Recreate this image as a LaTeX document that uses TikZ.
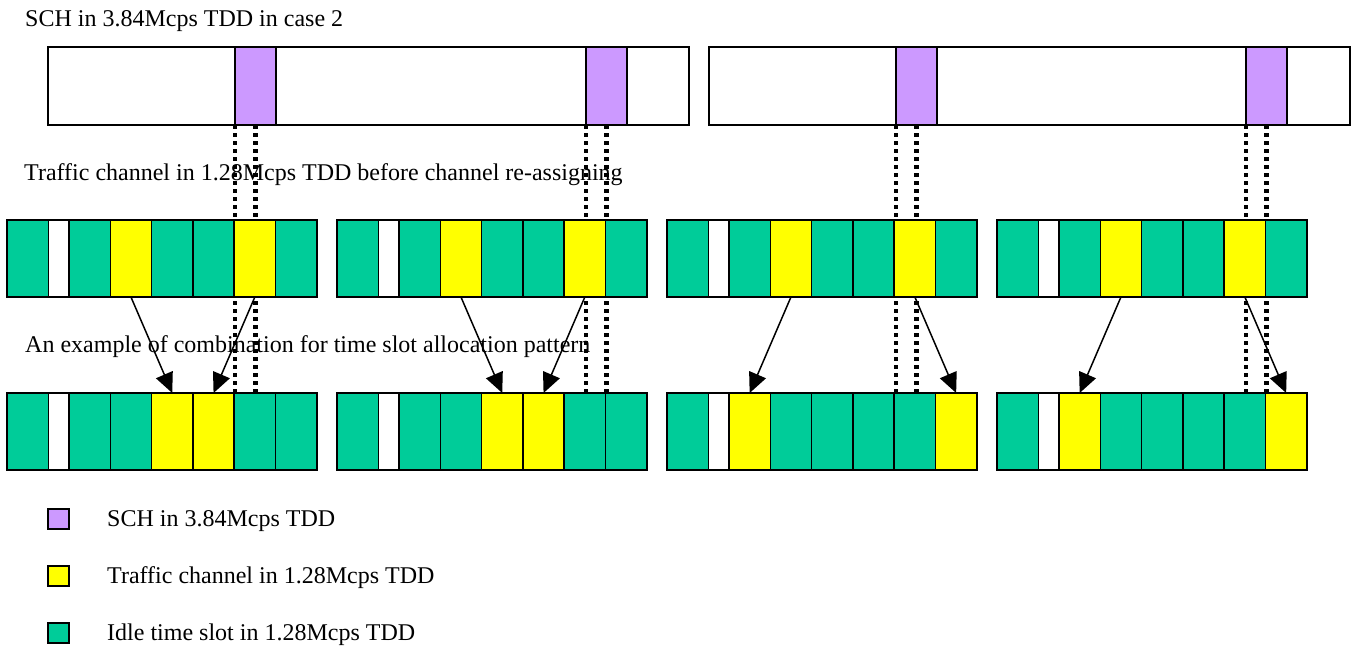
\documentclass[tikz,border=0pt]{standalone}
\usepackage{fontspec}
\setmainfont{Liberation Serif}
\usetikzlibrary{arrows.meta}
\definecolor{schc}{HTML}{CC99FF}
\definecolor{trafc}{HTML}{FFFF00}
\definecolor{idlec}{HTML}{00CC99}
\begin{document}
\begin{tikzpicture}[x=1pt,y=-1pt,
  box/.style={draw=black,line width=1.5pt,inner sep=0pt,outer sep=0pt,anchor=north west},
  frame/.style={box,fill=white,minimum width=641pt,minimum height=78pt},
  schbox/.style={box,fill=schc,minimum width=41pt,minimum height=78pt},
  slot/.style={box,minimum height=77pt},
  wide/.style={minimum width=41.3pt},
  narrow/.style={minimum width=20.7pt},
  lbl/.style={anchor=base west,inner sep=0pt,font=\fontsize{24}{28}\selectfont},
  legbox/.style={box,minimum width=21pt,minimum height=20pt},
  dotl/.style={line width=4.5pt,dash pattern=on 4pt off 4pt},
  arr/.style={line width=1.5pt,-{Triangle[length=20pt,width=18pt]}}]
\useasboundingbox (0,0) rectangle (1356,648);

% titles
\node[lbl] (t1) at (25,26) {SCH in 3.84Mcps TDD in case 2};
\node[lbl] (t2) at (24,180) {Traffic channel in 1.28Mcps TDD before channel re-assigning};
\node[lbl] (t3) at (25,352) {An example of combination for time slot allocation pattern};

% 3.84 Mcps frames
\node[frame] (fa) at (48,47) {};
\node[frame] (fb) at (709,47) {};
\node[schbox] (p1) at (235,47) {};
\node[schbox] (p2) at (586,47) {};
\node[schbox] (p3) at (896,47) {};
\node[schbox] (p4) at (1246,47) {};

% row 2 (after re-assigning)
\foreach \f/\xo in {1/7,2/337}{
  \foreach \k/\off/\s/\c in {1/0/wide/idlec,2/41.3/narrow/white,3/62/wide/idlec,4/103.3/wide/idlec,5/144.6/wide/trafc,6/185.9/wide/trafc,7/227.2/wide/idlec,8/268.5/wide/idlec}
    \node[slot,\s,fill=\c] (v\f-\k) at (\xo+\off,393) {};
}
\foreach \f/\xo in {3/667,4/997}{
  \foreach \k/\off/\s/\c in {1/0/wide/idlec,2/41.3/narrow/white,3/62/wide/trafc,4/103.3/wide/idlec,5/144.6/wide/idlec,6/185.9/wide/idlec,7/227.2/wide/idlec,8/268.5/wide/trafc}
    \node[slot,\s,fill=\c] (v\f-\k) at (\xo+\off,393) {};
}

% dotted alignment lines
\foreach \i in {1,2,3,4}{
  \draw[dotl] (p\i.south west) -- (p\i.south west |- v\i-1.north);
  \draw[dotl] (p\i.south) -- (p\i.south |- v\i-1.north);
}

% row 1 (before re-assigning)
\foreach \f/\xo in {1/7,2/337,3/667,4/997}{
  \foreach \k/\off/\s/\c in {1/0/wide/idlec,2/41.3/narrow/white,3/62/wide/idlec,4/103.3/wide/trafc,5/144.6/wide/idlec,6/185.9/wide/idlec,7/227.2/wide/trafc,8/268.5/wide/idlec}
    \node[slot,\s,fill=\c] (u\f-\k) at (\xo+\off,220) {};
}

% re-assignment arrows
\draw[arr] (u1-4.south) -- (v1-5.north);
\draw[arr] (u1-7.south) -- (v1-6.north);
\draw[arr] (u2-4.south) -- (v2-5.north);
\draw[arr] (u2-7.south) -- (v2-6.north);
\draw[arr] (u3-4.south) -- (v3-3.north);
\draw[arr] (u3-7.south) -- (v3-8.north);
\draw[arr] (u4-4.south) -- (v4-3.north);
\draw[arr] (u4-7.south) -- (v4-8.north);

% legend
\node[legbox,fill=schc] (l1) at (48,509) {};
\node[legbox,fill=trafc] (l2) at (48,566) {};
\node[legbox,fill=idlec] (l3) at (48,623) {};
\node[lbl] (lt1) at (107,526) {SCH in 3.84Mcps TDD};
\node[lbl] (lt2) at (107,583) {Traffic channel in 1.28Mcps TDD};
\node[lbl] (lt3) at (107,640) {Idle time slot in 1.28Mcps TDD};
\end{tikzpicture}
\end{document}
